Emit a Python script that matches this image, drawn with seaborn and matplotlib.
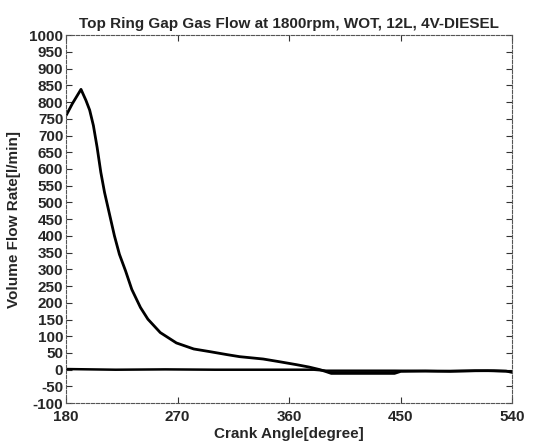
import matplotlib
matplotlib.use("Agg")
import matplotlib.pyplot as plt
import seaborn as sns
import pandas as pd

# Gas flow through the top ring gap over crank angle
angle_main = [180, 185, 192, 196, 199, 202, 205, 208, 211, 215, 219, 223, 228, 233,
              240, 246, 256, 269, 283, 296, 310, 320, 339, 352, 366, 376, 385, 390,
              394, 420, 445, 450, 470, 490, 510, 525, 535, 540]
flow_main = [760, 795, 838, 805, 776, 730, 665, 590, 530, 465, 400, 345, 295, 240,
             186, 151, 111, 80, 62, 54, 45, 39, 32, 24, 15, 8, 0, -6,
             -11, -11, -11, -5, -4, -5, -3, -3, -4, -8]

# Companion trace that stays near zero
angle_base = [180, 220, 260, 300, 340, 380, 390, 420, 445, 480, 520, 540]
flow_base = [2, 0, 1, 0, 0, 0, -3, -3, -3, -4, -3, -5]

x_ticks = [180, 270, 360, 450, 540]
y_ticks = list(range(-100, 1001, 50))

sns.set_theme(style="white")
plt.rcParams["font.family"] = ["Liberation Sans", "DejaVu Sans"]

fig = plt.figure(figsize=(5.42, 4.45), dpi=100)
ax = fig.add_axes([0.122, 0.094, 0.823, 0.827])

df_main = pd.DataFrame({"angle": angle_main, "flow": flow_main})
df_base = pd.DataFrame({"angle": angle_base, "flow": flow_base})
sns.lineplot(data=df_base, x="angle", y="flow", ax=ax, color="black", lw=1.8,
             estimator=None, sort=False)
sns.lineplot(data=df_main, x="angle", y="flow", ax=ax, color="black", lw=2.0,
             estimator=None, sort=False)

ax.set_xlim(180, 540)
ax.set_ylim(-100, 1000)
ax.set_xticks(x_ticks)
ax.set_yticks(y_ticks)
ax.set_xticklabels([str(t) for t in x_ticks], fontsize=11, fontweight="bold")
ax.set_yticklabels([str(t) for t in y_ticks], fontsize=11, fontweight="bold")
ax.tick_params(direction="in", length=4, width=0.8, color="#333333", pad=2,
               top=True, right=True, bottom=True, left=True)
ax.tick_params(axis="x", pad=5)

for side in ["left", "right", "top", "bottom"]:
    ax.spines[side].set_visible(True)
    ax.spines[side].set_color("#555555")
    ax.spines[side].set_linewidth(0.8)
    ax.spines[side].set_linestyle((0, (3, 1.5)))

ax.set_xlabel("Crank Angle[degree]", fontsize=11, fontweight="bold", labelpad=2)
ax.set_ylabel("Volume Flow Rate[l/min]", fontsize=11, fontweight="bold", labelpad=6)
ax.set_title("Top Ring Gap Gas Flow at 1800rpm, WOT, 12L, 4V-DIESEL",
             fontsize=11, fontweight="bold", pad=5)

fig.savefig("out.png", dpi=100)
